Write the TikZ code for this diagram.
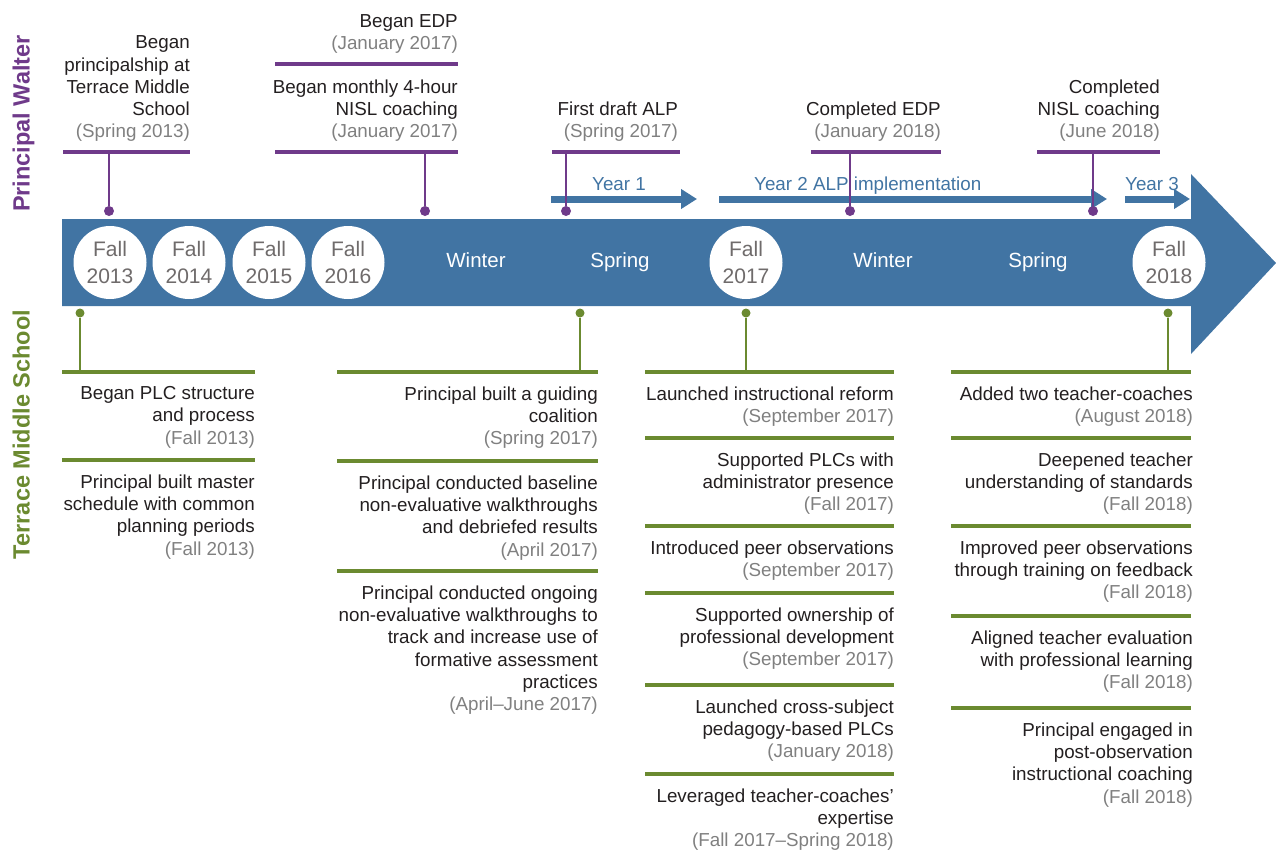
\documentclass[tikz,border=0pt]{standalone}
\usepackage{fontspec}
\setmainfont{Liberation Sans}
\usetikzlibrary{arrows.meta}
\definecolor{tlblue}{HTML}{4174A3}
\definecolor{plum}{HTML}{6F3A8A}
\definecolor{leaf}{HTML}{6B8A30}
\definecolor{ink}{HTML}{231F20}
\definecolor{dategrey}{HTML}{808080}
\definecolor{ringgrey}{HTML}{6F6B6B}
\newcommand{\when}[1]{\textcolor{dategrey}{(#1)}}
\begin{document}
\begin{tikzpicture}[x=1pt,y=1pt,yscale=-1,xscale=1,
	note/.style={font=\fontsize{18.8}{22.3}\selectfont, text=ink, align=right, inner sep=0pt},
	pbar/.style={draw=plum, line width=4.7pt},
	gbar/.style={draw=leaf, line width=4.7pt},
	pstem/.style={draw=plum, line width=1.3pt},
	gstem/.style={draw=leaf, line width=1.3pt},
	pdot/.style={circle, fill=plum, inner sep=0pt, minimum size=10pt},
	gdot/.style={circle, fill=leaf, inner sep=0pt, minimum size=9pt},
	ring/.style={circle, fill=white, inner sep=0pt, minimum size=73pt, text=ringgrey, align=center, font=\fontsize{21}{26.5}\selectfont},
	season/.style={text=white, inner sep=0pt, anchor=base, font=\fontsize{20.5}{24}\selectfont},
	yr/.style={draw=tlblue, line width=7pt, -{Triangle[length=16pt,width=19pt]}},
	yrlabel/.style={text=tlblue, inner sep=0pt, anchor=base west, font=\fontsize{18.8}{22.3}\selectfont},
	side/.style={rotate=90, anchor=base, inner sep=0pt, font=\fontsize{23.5}{28}\selectfont\bfseries}]
			\useasboundingbox (0,0) rectangle (1276,852); %diagram is 1276 wide and 852 high
			
			%Shape: Right Arrow
			\fill[tlblue] (62,219) -- (1191,219) -- (1191,174) -- (1276,263) -- (1191,354) -- (1191,306) -- (62,306) -- cycle ;
			
			%Shape: Circles
			\node[ring] (f13) at (110,262.5) {Fall\\2013};
			\node[ring] (f14) at (189,262.5) {Fall\\2014};
			\node[ring] (f15) at (269,262.5) {Fall\\2015};
			\node[ring] (f16) at (348,262.5) {Fall\\2016};
			\node[ring] (f17) at (746,262.5) {Fall\\2017};
			\node[ring] (f18) at (1169,262.5) {Fall\\2018};
			
			%Text Node
			\node[season] (win1) at (476,267.5) {Winter};
			\node[season] (spr1) at (620,267.5) {Spring};
			\node[season] (win2) at (883,267.5) {Winter};
			\node[season] (spr2) at (1038,267.5) {Spring};
			
			%Straight Lines (year arrows)
			\coordinate (y1s) at (551,199);
			\coordinate (y1e) at (697,199);
			\coordinate (y2s) at (719,199);
			\coordinate (y2e) at (1107,199);
			\coordinate (y3s) at (1125,199);
			\coordinate (y3e) at (1190,199);
			\draw[yr] (y1s) -- (y1e) ;
			\draw[yr] (y2s) -- (y2e) ;
			\draw[yr] (y3s) -- (y3e) ;
			\node[yrlabel] (yl1) at (592,190.5) {Year 1};
			\node[yrlabel] (yl2) at (754,190.5) {Year 2 ALP implementation};
			\node[yrlabel] (yl3) at (1125,190.5) {Year 3};
			
			%Side labels
			\node[side, text=plum] (pw) at (29.5,123.5) {Principal Walter};
			\node[side, text=leaf] (tms) at (29.5,434.5) {Terrace Middle School};
			
			%Straight Lines (purple bars)
			\draw[pbar] (63,152) -- (190,152) ;
			\draw[pbar] (275,64) -- (458,64) ;
			\draw[pbar] (275,152) -- (458,152) ;
			\draw[pbar] (552,152) -- (680,152) ;
			\draw[pbar] (811,152) -- (941,152) ;
			\draw[pbar] (1037,152) -- (1160,152) ;
			
			%Purple stems and dots
			\coordinate (pa1) at (109,152);
			\coordinate (pa2) at (425,152);
			\coordinate (pa3) at (566,152);
			\coordinate (pa4) at (850,152);
			\coordinate (pa5) at (1093,152);
			\node[pdot] (pd1) at (109,211) {};
			\node[pdot] (pd2) at (425,211) {};
			\node[pdot] (pd3) at (566,211) {};
			\node[pdot] (pd4) at (850,211) {};
			\node[pdot] (pd5) at (1093,211) {};
			\draw[pstem] (pd1) -- (pa1) ;
			\draw[pstem] (pd2) -- (pa2) ;
			\draw[pstem] (pd3) -- (pa3) ;
			\draw[pstem] (pd4) -- (pa4) ;
			\draw[pstem] (pd5) -- (pa5) ;
			
			%Text Node (principal)
			\node[note, anchor=south east] (p1) at (190,142) {Began\\principalship at\\Terrace Middle\\School\\\when{Spring 2013}};
			\node[note, anchor=south east] (p2) at (458,54) {Began EDP\\\when{January 2017}};
			\node[note, anchor=south east] (p3) at (458,142) {Began monthly 4-hour\\NISL coaching\\\when{January 2017}};
			\node[note, anchor=south east] (p4) at (678,142) {First draft ALP\\\when{Spring 2017}};
			\node[note, anchor=south east] (p5) at (941,142) {Completed EDP\\\when{January 2018}};
			\node[note, anchor=south east] (p6) at (1160,142) {Completed\\NISL coaching\\\when{June 2018}};
			
			%Green stems and dots
			\coordinate (ga1) at (80,372);
			\coordinate (ga2) at (580,372);
			\coordinate (ga3) at (746,372);
			\coordinate (ga4) at (1168,372);
			\node[gdot] (gd1) at (80,313) {};
			\node[gdot] (gd2) at (580,313) {};
			\node[gdot] (gd3) at (746,313) {};
			\node[gdot] (gd4) at (1168,313) {};
			\draw[gstem] (gd1) -- (ga1) ;
			\draw[gstem] (gd2) -- (ga2) ;
			\draw[gstem] (gd3) -- (ga3) ;
			\draw[gstem] (gd4) -- (ga4) ;
			
			%Straight Lines (green bars)
			\draw[gbar] (62,372) -- (255,372) ;
			\draw[gbar] (62,460) -- (255,460) ;
			\draw[gbar] (337,372) -- (598,372) ;
			\draw[gbar] (337,461) -- (598,461) ;
			\draw[gbar] (337,571) -- (598,571) ;
			\draw[gbar] (645,372) -- (894,372) ;
			\draw[gbar] (645,438) -- (894,438) ;
			\draw[gbar] (645,526) -- (894,526) ;
			\draw[gbar] (645,593) -- (894,593) ;
			\draw[gbar] (645,685) -- (894,685) ;
			\draw[gbar] (645,774) -- (894,774) ;
			\draw[gbar] (951,372) -- (1191,372) ;
			\draw[gbar] (951,438) -- (1191,438) ;
			\draw[gbar] (951,526) -- (1191,526) ;
			\draw[gbar] (951,616) -- (1191,616) ;
			\draw[gbar] (951,708) -- (1191,708) ;
			
			%Text Node (school)
			\node[note, anchor=north east] (g1) at (255,386.3) {Began PLC structure\\and process\\\when{Fall 2013}};
			\node[note, anchor=north east] (g2) at (255,474.3) {Principal built master\\schedule with common\\planning periods\\\when{Fall 2013}};
			\node[note, anchor=north east] (g3) at (598,386.3) {Principal built a guiding\\coalition\\\when{Spring 2017}};
			\node[note, anchor=north east] (g4) at (598,475.3) {Principal conducted baseline\\non-evaluative walkthroughs\\and debriefed results\\\when{April 2017}};
			\node[note, anchor=north east] (g5) at (598,585.3) {Principal conducted ongoing\\non-evaluative walkthroughs to\\track and increase use of\\formative assessment\\practices\\\when{April--June 2017}};
			\node[note, anchor=north east] (g6) at (894,386.3) {Launched instructional reform\\\when{September 2017}};
			\node[note, anchor=north east] (g7) at (894,452.3) {Supported PLCs with\\administrator presence\\\when{Fall 2017}};
			\node[note, anchor=north east] (g8) at (894,540.3) {Introduced peer observations\\\when{September 2017}};
			\node[note, anchor=north east] (g9) at (894,607.3) {Supported ownership of\\professional development\\\when{September 2017}};
			\node[note, anchor=north east] (g10) at (894,699.3) {Launched cross-subject\\pedagogy-based PLCs\\\when{January 2018}};
			\node[note, anchor=north east] (g11) at (894,788.3) {Leveraged teacher-coaches’\\expertise\\\when{Fall 2017--Spring 2018}};
			\node[note, anchor=north east] (g12) at (1193,386.3) {Added two teacher-coaches\\\when{August 2018}};
			\node[note, anchor=north east] (g13) at (1193,452.3) {Deepened teacher\\understanding of standards\\\when{Fall 2018}};
			\node[note, anchor=north east] (g14) at (1193,540.3) {Improved peer observations\\through training on feedback\\\when{Fall 2018}};
			\node[note, anchor=north east] (g15) at (1193,630.3) {Aligned teacher evaluation\\with professional learning\\\when{Fall 2018}};
			\node[note, anchor=north east] (g16) at (1193,722.3) {Principal engaged in\\post-observation\\instructional coaching\\\when{Fall 2018}};
			
		\end{tikzpicture}
\end{document}
